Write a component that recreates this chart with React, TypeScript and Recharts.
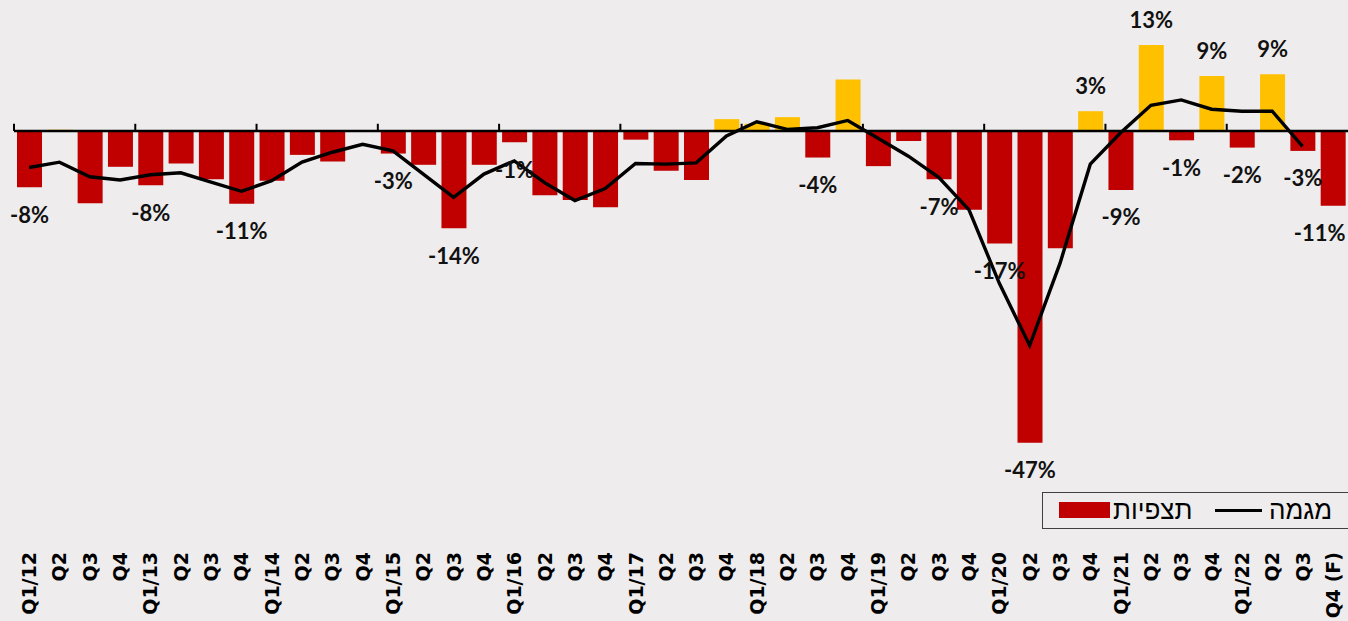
import React from "react";
import {
  ComposedChart,
  Bar,
  Line,
  XAxis,
  YAxis,
  Cell,
  LabelList,
  ReferenceLine,
  Legend,
} from "recharts";

const categories = [
  "2012Q1", "2012Q2", "2012Q3", "2012Q4",
  "2013Q1", "2013Q2", "2013Q3", "2013Q4",
  "2014Q1", "2014Q2", "2014Q3", "2014Q4",
  "2015Q1", "2015Q2", "2015Q3", "2015Q4",
  "2016Q1", "2016Q2", "2016Q3", "2016Q4",
  "2017Q1", "2017Q2", "2017Q3", "2017Q4",
  "2018Q1", "2018Q2", "2018Q3", "2018Q4",
  "2019Q1", "2019Q2", "2019Q3", "2019Q4",
  "2020Q1", "2020Q2", "2020Q3", "2020Q4",
  "2021Q1", "2021Q2", "2021Q3", "2021Q4",
  "2022Q1", "2022Q2", "2022Q3", "2022Q4",
];

const tickLabels = [
  "Q1/12", "Q2", "Q3", "Q4",
  "Q1/13", "Q2", "Q3", "Q4",
  "Q1/14", "Q2", "Q3", "Q4",
  "Q1/15", "Q2", "Q3", "Q4",
  "Q1/16", "Q2", "Q3", "Q4",
  "Q1/17", "Q2", "Q3", "Q4",
  "Q1/18", "Q2", "Q3", "Q4",
  "Q1/19", "Q2", "Q3", "Q4",
  "Q1/20", "Q2", "Q3", "Q4",
  "Q1/21", "Q2", "Q3", "Q4",
  "Q1/22", "Q2", "Q3", "Q4 (F)",
];

// תצפיות (observations), %
const observed = [
  -8.5, 0.2, -10.9, -5.4,
  -8.2, -4.9, -7.3, -11.0,
  -7.5, -3.6, -4.6, 0,
  -3.4, -5.1, -14.7, -5.1,
  -1.7, -9.7, -10.4, -11.5,
  -1.3, -6.0, -7.4, 1.8,
  1.1, 2.1, -4.0, 7.8,
  -5.3, -1.5, -7.3, -11.9,
  -17.0, -47.1, -17.7, 3.0,
  -8.9, 13.0, -1.4, 8.3,
  -2.5, 8.6, -3.0, -11.3,
];

// מגמה (trend), %
const trend: (number | null)[] = [
  -5.5, -4.7, -6.9, -7.4,
  -6.6, -6.3, -7.7, -9.1,
  -7.5, -4.7, -3.2, -2.0,
  -3.0, -6.5, -10.0, -6.5,
  -4.5, -7.8, -10.5, -8.7,
  -4.9, -5.0, -4.8, -0.75,
  1.4, 0.25, 0.5, 1.6,
  -1.1, -3.8, -7.0, -11.9,
  -23.0, -32.4, -20.0, -5.0,
  -0.25, 3.9, 4.7, 3.3,
  3.0, 3.0, -2.3, null,
];

const dataLabels = [
  "-8%", "", "", "",
  "-8%", "", "", "-11%",
  "", "", "", "",
  "-3%", "", "-14%", "",
  "-1%", "", "", "",
  "", "", "", "",
  "", "", "-4%", "",
  "", "", "-7%", "",
  "-17%", "-47%", "", "3%",
  "-9%", "13%", "-1%", "9%",
  "-2%", "9%", "-3%", "-11%",
];

const seriesNames = { obs: "תצפיות", trend: "מגמה" };

const RED = "#C00000";
const YELLOW = "#FFC000";
const BG = "#EEECED";
const W = 1348;
const H = 621;

const data = categories.map((id, i) => ({
  id,
  obs: observed[i],
  trend: trend[i],
  label: dataLabels[i],
}));

const yearStarts = categories.filter((c) => c.endsWith("Q1"));

const XTick = (props: any) => {
  const { x, y, index, payload } = props;
  const i = payload && typeof payload.index === "number" ? payload.index : index;
  const ty = Number(y) + 90;
  return (
    <text
      x={x}
      y={ty}
      transform={`rotate(-90 ${x} ${ty})`}
      textAnchor="end"
      dominantBaseline="central"
      fontFamily="'DejaVu Sans', sans-serif"
      fontWeight={700}
      fontSize={19}
      fill="#000"
    >
      {tickLabels[i]}
    </text>
  );
};

const renderLabel = (props: any) => {
  const { x, y, width, height, value } = props;
  const text = value == null ? "" : String(value);
  if (!text) return null;
  const negative = text.startsWith("-");
  const nx = Number(x);
  const ny = Number(y);
  const nh = Number(height);
  const nw = Number(width);
  const top = Math.min(ny, ny + nh);
  const bottom = Math.max(ny, ny + nh);
  let cx = nx + nw / 2;
  const half = text.length * 6.6;
  if (cx + half > W - 2) cx = W - 2 - half;
  const cy = negative ? bottom + 27 : top - 26;
  return (
    <text
      key={`lbl-${nx}`}
      x={cx}
      y={cy}
      textAnchor="middle"
      dominantBaseline="central"
      fontFamily="Lato, 'Open Sans', sans-serif"
      fontWeight={700}
      fontSize={22}
      fill="#111"
    >
      {text}
    </text>
  );
};

const renderLegend = (props: any) => {
  const payload: any[] = props.payload || [];
  const bar = payload.find((p) => p.type !== "line");
  const line = payload.find((p) => p.type === "line");
  const textStyle: React.CSSProperties = {
    position: "absolute",
    top: 0,
    height: 35,
    lineHeight: "35px",
    fontFamily: "'Liberation Sans', Arial, sans-serif",
    fontSize: 26,
    color: "#000",
    whiteSpace: "nowrap",
  };
  return (
    <div
      style={{
        position: "relative",
        boxSizing: "border-box",
        width: 340,
        height: 37,
        border: "1px solid #404040",
        background: BG,
      }}
    >
      {bar && (
        <>
          <div
            style={{
              position: "absolute",
              left: 16,
              top: 9,
              width: 51,
              height: 16,
              background: RED,
            }}
          />
          <div style={{ ...textStyle, left: 70 }}>{bar.value}</div>
        </>
      )}
      {line && (
        <>
          <div
            style={{
              position: "absolute",
              left: 172,
              top: 16,
              width: 47,
              height: 3,
              background: "#000",
            }}
          />
          <div style={{ ...textStyle, left: 226 }}>{line.value}</div>
        </>
      )}
    </div>
  );
};

export default function App() {
  return (
    <div
      style={{
        position: "absolute",
        left: 0,
        top: 0,
        width: W,
        height: H,
        overflow: "hidden",
        background: BG,
      }}
    >
      <ComposedChart
        width={W}
        height={H}
        data={data}
        margin={{ top: 0, right: 0, left: 14, bottom: 0 }}
      >
        <XAxis
          dataKey="id"
          interval={0}
          height={159}
          tickLine={false}
          axisLine={false}
          tickSize={0}
          tickMargin={0}
          tick={<XTick />}
        />
        <YAxis hide domain={[-50, 19.8]} allowDataOverflow />
        <Legend
          layout="horizontal"
          verticalAlign="middle"
          align="center"
          content={renderLegend}
          wrapperStyle={{ left: 1042, top: 492, width: 340, height: 37 }}
        />
        <Bar
          dataKey="obs"
          name={seriesNames.obs}
          barSize={25}
          isAnimationActive={false}
          legendType="rect"
        >
          {data.map((d) => (
            <Cell key={d.id} fill={d.obs >= 0 ? YELLOW : RED} />
          ))}
          <LabelList dataKey="label" content={renderLabel} />
        </Bar>
        <ReferenceLine y={0} stroke="#000" strokeWidth={2.5} />
        {yearStarts.map((c) => (
          <ReferenceLine
            key={`yt-${c}`}
            position="start"
            segment={[
              { x: c, y: 0 },
              { x: c, y: 1.1 },
            ]}
            stroke="#000"
            strokeWidth={2}
          />
        ))}
        <Line
          dataKey="trend"
          name={seriesNames.trend}
          type="linear"
          stroke="#000"
          strokeWidth={3.4}
          dot={false}
          activeDot={false}
          isAnimationActive={false}
          legendType="line"
        />
      </ComposedChart>
    </div>
  );
}
